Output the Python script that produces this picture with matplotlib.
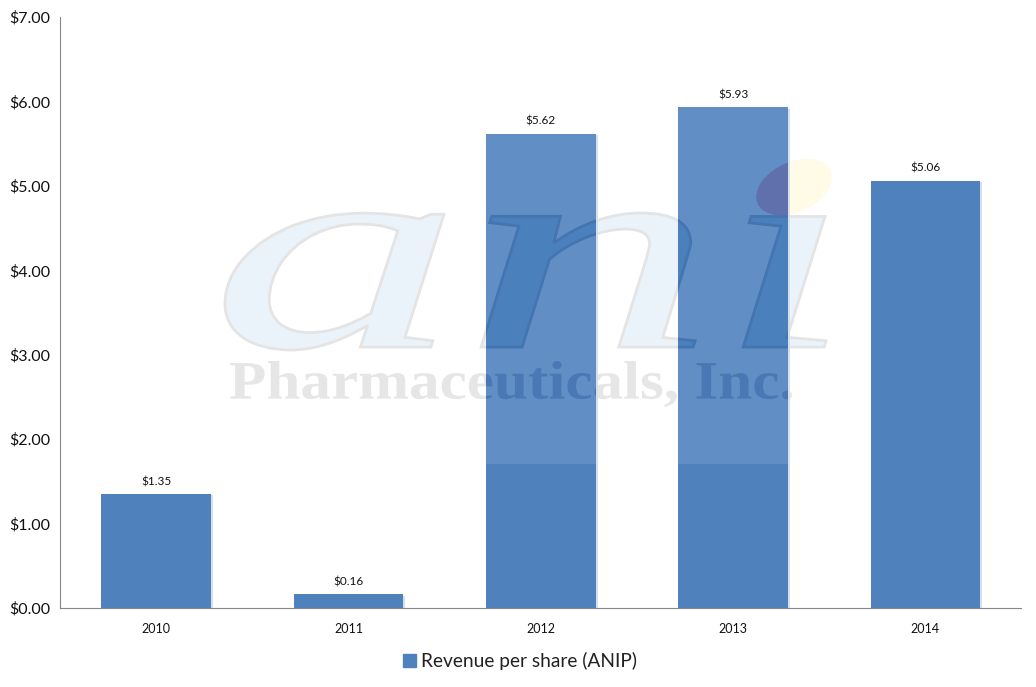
import matplotlib
matplotlib.use('Agg')
import matplotlib.pyplot as plt
import matplotlib.patheffects as pe
from matplotlib.font_manager import FontProperties
from matplotlib.patches import Ellipse, Patch, PathPatch
from matplotlib.text import TextPath
from matplotlib.transforms import Affine2D

years = ['2010', '2011', '2012', '2013', '2014']
revenue = [1.35, 0.16, 5.62, 5.93, 5.06]
value_labels = ['$1.35', '$0.16', '$5.62', '$5.93', '$5.06']
y_ticks = [0, 1, 2, 3, 4, 5, 6, 7]
y_labels = ['$0.00', '$1.00', '$2.00', '$3.00', '$4.00', '$5.00', '$6.00', '$7.00']
series_name = 'Revenue per share (ANIP)'
logo_word = 'an\u0131'  # dotless i, the logo's dot is the ellipse below
logo_name = 'Pharmaceuticals, Inc.'

BAR = '#4F81BD'
BAR_LIGHT = '#618EC5'
W, H = 1036, 687

plt.rcParams['font.family'] = ['Lato', 'DejaVu Sans']
fig = plt.figure(figsize=(W / 100, H / 100), dpi=100)
ax = fig.add_axes([60 / W, 1 - 608 / H, 961.5 / W, 591 / H])


def logo_patch(text, font, box, **kw):
	# stretch the text outline into a pixel box (x0, top, x1, bottom)
	path = TextPath((0, 0), text, size=100, prop=font)
	ext = path.get_extents()
	x0, top, x1, bottom = box
	tr = (Affine2D().translate(-ext.x0, -ext.y0)
		.scale((x1 - x0) / ext.width, (bottom - top) / ext.height)
		.translate(x0, H - bottom))
	return PathPatch(path, transform=tr, **kw)


word_font = FontProperties(family='Liberation Serif', style='italic')
name_font = FontProperties(family='Liberation Serif', weight='bold')
word_box = (225, 213, 826, 350)
name_box = (230, 361, 792, 407)

# watermark behind the bars
ax.add_artist(logo_patch(logo_word, word_font, word_box, fc='#EAF3FA', ec='#E4E4E4', lw=2, zorder=1))
ax.add_artist(logo_patch(logo_name, name_font, name_box, fc='#E6E6E6', ec='none', zorder=1))
dot = dict(xy=(794, H - 187), width=80, height=50, angle=25, transform=Affine2D())
ax.add_artist(Ellipse(fc='#FFFBE6', ec='none', zorder=1, **dot))

x = range(len(years))
bars = ax.bar(x, revenue, width=0.57, color=BAR, zorder=2,
	path_effects=[pe.SimplePatchShadow(offset=(1.5, -1), shadow_rgbFace='#D5E0EC', alpha=1), pe.Normal()])

# the watermark lightens the two tall bars above its lower edge
wash_from = 1.7
for i in [2, 3]:
	wash = ax.bar(i, revenue[i] - wash_from, bottom=wash_from, width=0.57, color=BAR_LIGHT, zorder=3)[0]
	word = logo_patch(logo_word, word_font, word_box, fc='#4A80BC', ec='#4475B0', lw=2, zorder=4)
	name = logo_patch(logo_name, name_font, name_box, fc='#4A78B4', ec='none', zorder=4)
	ax.add_artist(word)
	ax.add_artist(name)
	word.set_clip_path(wash)
	name.set_clip_path(wash)
	if i == 3:
		spot = Ellipse(fc='#5F70AD', ec='none', zorder=4, **dot)
		ax.add_artist(spot)
		spot.set_clip_path(wash)

for i, b in enumerate(bars):
	ax.annotate(value_labels[i], (b.get_x() + b.get_width() / 2, revenue[i]), xytext=(0, 7),
		textcoords='offset pixels', ha='center', va='bottom', fontsize=8.5, color='#111111', zorder=5)

ax.set_xlim(-0.5, 4.5)
ax.set_ylim(0, 7)
ax.set_xticks(list(x))
ax.set_xticklabels(years, fontsize=9, color='#111111')
ax.set_yticks(y_ticks)
ax.set_yticklabels(y_labels, fontsize=11.5, color='#111111')
ax.tick_params(length=0)
ax.tick_params(axis='x', pad=10.5)
ax.tick_params(axis='y', pad=7)
ax.spines['top'].set_visible(False)
ax.spines['right'].set_visible(False)
ax.spines['left'].set_color('#868686')
ax.spines['bottom'].set_color('#868686')

fig.legend(handles=[Patch(color=BAR, label=series_name)], loc='center', bbox_to_anchor=(520 / W, 1 - 661 / H),
	frameon=False, fontsize=13.8, handlelength=0.65, handleheight=0.65, handletextpad=0.25, labelcolor='#222222')

fig.savefig('out.png', dpi=100)
